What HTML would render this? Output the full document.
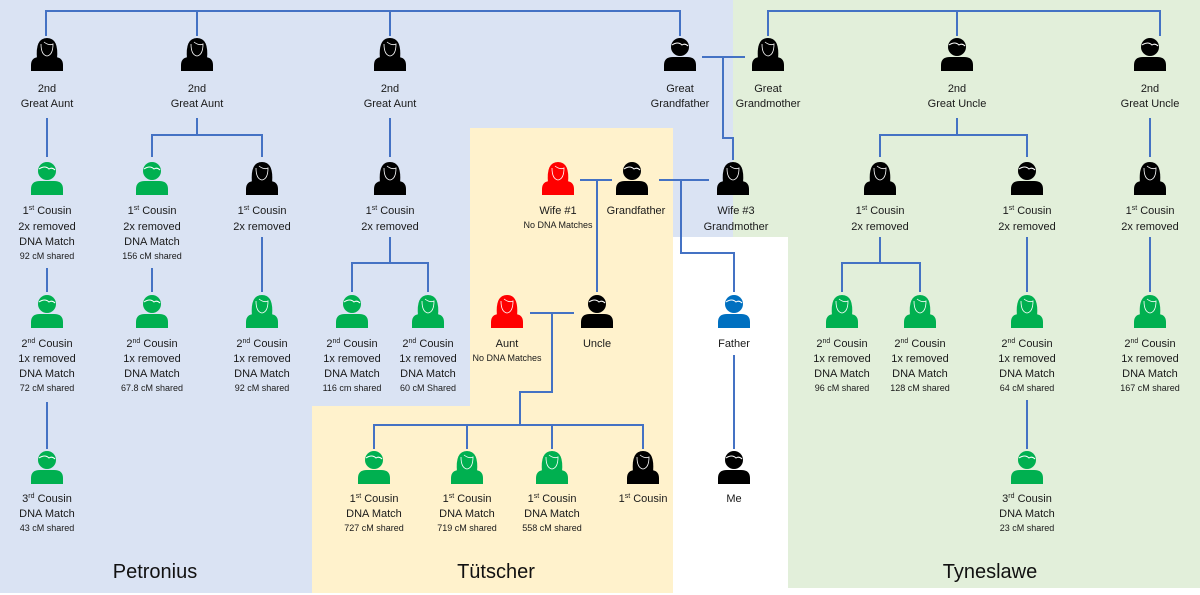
<!DOCTYPE html>
<html><head><meta charset="utf-8"><style>
html,body{margin:0;padding:0;background:#fff}
svg{display:block}
text{font-family:"Liberation Sans",sans-serif;font-size:11px;fill:#1a1a1a;text-anchor:middle}
.s{font-size:9px}
.t{font-size:20px;fill:#111}
</style></head><body>
<svg width="1200" height="595" viewBox="0 0 1200 595" xmlns="http://www.w3.org/2000/svg">
<defs>
<symbol id="m" viewBox="0 0 32 34"><circle cx="16" cy="10" r="9"/><path d="M0 34V28Q0 20 9 20H23Q32 20 32 28V34Z"/><path d="M8 8Q14 4 18 8Q21 6 24 9" fill="none" stroke="#fff" stroke-width="1"/></symbol>
<symbol id="f" viewBox="0 0 32 34"><path d="M6 22Q4 1 16 1Q28 1 26 22Z"/><path d="M0 34V28Q0 20 9 20H23Q32 20 32 28V34Z"/><path d="M10 7Q10 18 16 19Q22 18 22 7Q18 9 13 5" fill="none" stroke="#fff" stroke-width="0.8"/></symbol>
</defs>
<rect x="0" y="0" width="733" height="237" fill="#dae3f3"/>
<rect x="0" y="237" width="470" height="170" fill="#dae3f3"/>
<rect x="0" y="406" width="312" height="187" fill="#dae3f3"/>
<rect x="733" y="0" width="467" height="237" fill="#e2efda"/>
<rect x="788" y="237" width="412" height="351" fill="#e2efda"/>
<rect x="470" y="128" width="203" height="465" fill="#fff2cc"/>
<rect x="312" y="406" width="361" height="187" fill="#fff2cc"/>
<g fill="none" stroke="#4472c4" stroke-width="2">
<path d="M46 36V11H680V36M197 11V36M390 11V36"/>
<path d="M768 36V11H1160V36M957 11V36"/>
<path d="M702 57H745M723 57V138H733V160"/>
<path d="M47 118V157M197 118V135M152 157V135H262V157M390 118V157M957 118V135M880 157V135H1027V157M1150 118V157"/>
<path d="M47 268V292M152 268V292M262 237V292M390 237V263M352 292V263H428V292M880 237V263M842 292V263H920V292M1027 237V292M1150 237V292"/>
<path d="M580 180H612M597 180V292M659 180H709M681 180V253H734V292"/>
<path d="M530 313H574M552 313V392H520V425M374 449V425H643V449M467 425V449M552 425V449"/>
<path d="M47 402V449M734 355V449M1027 400V449"/>
</g>
<g fill="#000">
<use href="#f" x="31" y="37" width="32" height="34"/>
<use href="#f" x="181" y="37" width="32" height="34"/>
<use href="#f" x="374" y="37" width="32" height="34"/>
<use href="#m" x="664" y="37" width="32" height="34"/>
<use href="#f" x="752" y="37" width="32" height="34"/>
<use href="#m" x="941" y="37" width="32" height="34"/>
<use href="#m" x="1134" y="37" width="32" height="34"/>
<use href="#f" x="246" y="161" width="32" height="34"/>
<use href="#f" x="374" y="161" width="32" height="34"/>
<use href="#m" x="616" y="161" width="32" height="34"/>
<use href="#f" x="717" y="161" width="32" height="34"/>
<use href="#f" x="864" y="161" width="32" height="34"/>
<use href="#m" x="1011" y="161" width="32" height="34"/>
<use href="#f" x="1134" y="161" width="32" height="34"/>
<use href="#m" x="581" y="294" width="32" height="34"/>
<use href="#f" x="627" y="450" width="32" height="34"/>
<use href="#m" x="718" y="450" width="32" height="34"/>
</g>
<g fill="#00b050">
<use href="#m" x="31" y="161" width="32" height="34"/>
<use href="#m" x="136" y="161" width="32" height="34"/>
<use href="#m" x="31" y="294" width="32" height="34"/>
<use href="#m" x="136" y="294" width="32" height="34"/>
<use href="#f" x="246" y="294" width="32" height="34"/>
<use href="#m" x="336" y="294" width="32" height="34"/>
<use href="#f" x="412" y="294" width="32" height="34"/>
<use href="#f" x="826" y="294" width="32" height="34"/>
<use href="#f" x="904" y="294" width="32" height="34"/>
<use href="#f" x="1011" y="294" width="32" height="34"/>
<use href="#f" x="1134" y="294" width="32" height="34"/>
<use href="#m" x="31" y="450" width="32" height="34"/>
<use href="#m" x="358" y="450" width="32" height="34"/>
<use href="#f" x="451" y="450" width="32" height="34"/>
<use href="#f" x="536" y="450" width="32" height="34"/>
<use href="#m" x="1011" y="450" width="32" height="34"/>
</g>
<g fill="#ff0000">
<use href="#f" x="542" y="161" width="32" height="34"/>
<use href="#f" x="491" y="294" width="32" height="34"/>
</g>
<use href="#m" x="718" y="294" width="32" height="34" fill="#0070c0"/>
<text x="47" y="92">2nd</text><text x="47" y="107">Great Aunt</text>
<text x="197" y="92">2nd</text><text x="197" y="107">Great Aunt</text>
<text x="390" y="92">2nd</text><text x="390" y="107">Great Aunt</text>
<text x="680" y="92">Great</text><text x="680" y="107">Grandfather</text>
<text x="768" y="92">Great</text><text x="768" y="107">Grandmother</text>
<text x="957" y="92">2nd</text><text x="957" y="107">Great Uncle</text>
<text x="1150" y="92">2nd</text><text x="1150" y="107">Great Uncle</text>
<text x="47" y="214">1<tspan font-size="7" dy="-4">st</tspan><tspan dy="4"> Cousin</tspan></text><text x="47" y="230">2x removed</text><text x="47" y="245">DNA Match</text><text class="s" x="47" y="259">92 cM shared</text>
<text x="152" y="214">1<tspan font-size="7" dy="-4">st</tspan><tspan dy="4"> Cousin</tspan></text><text x="152" y="230">2x removed</text><text x="152" y="245">DNA Match</text><text class="s" x="152" y="259">156 cM shared</text>
<text x="262" y="214">1<tspan font-size="7" dy="-4">st</tspan><tspan dy="4"> Cousin</tspan></text><text x="262" y="230">2x removed</text>
<text x="390" y="214">1<tspan font-size="7" dy="-4">st</tspan><tspan dy="4"> Cousin</tspan></text><text x="390" y="230">2x removed</text>
<text x="558" y="214">Wife #1</text><text class="s" x="558" y="228">No DNA Matches</text>
<text x="636" y="214">Grandfather</text>
<text x="736" y="214">Wife #3</text><text x="736" y="230">Grandmother</text>
<text x="880" y="214">1<tspan font-size="7" dy="-4">st</tspan><tspan dy="4"> Cousin</tspan></text><text x="880" y="230">2x removed</text>
<text x="1027" y="214">1<tspan font-size="7" dy="-4">st</tspan><tspan dy="4"> Cousin</tspan></text><text x="1027" y="230">2x removed</text>
<text x="1150" y="214">1<tspan font-size="7" dy="-4">st</tspan><tspan dy="4"> Cousin</tspan></text><text x="1150" y="230">2x removed</text>
<text x="47" y="347">2<tspan font-size="7" dy="-4">nd</tspan><tspan dy="4"> Cousin</tspan></text><text x="47" y="362">1x removed</text><text x="47" y="377">DNA Match</text><text class="s" x="47" y="391">72 cM shared</text>
<text x="152" y="347">2<tspan font-size="7" dy="-4">nd</tspan><tspan dy="4"> Cousin</tspan></text><text x="152" y="362">1x removed</text><text x="152" y="377">DNA Match</text><text class="s" x="152" y="391">67.8 cM shared</text>
<text x="262" y="347">2<tspan font-size="7" dy="-4">nd</tspan><tspan dy="4"> Cousin</tspan></text><text x="262" y="362">1x removed</text><text x="262" y="377">DNA Match</text><text class="s" x="262" y="391">92 cM shared</text>
<text x="352" y="347">2<tspan font-size="7" dy="-4">nd</tspan><tspan dy="4"> Cousin</tspan></text><text x="352" y="362">1x removed</text><text x="352" y="377">DNA Match</text><text class="s" x="352" y="391">116 cm shared</text>
<text x="428" y="347">2<tspan font-size="7" dy="-4">nd</tspan><tspan dy="4"> Cousin</tspan></text><text x="428" y="362">1x removed</text><text x="428" y="377">DNA Match</text><text class="s" x="428" y="391">60 cM Shared</text>
<text x="507" y="347">Aunt</text><text class="s" x="507" y="361">No DNA Matches</text>
<text x="597" y="347">Uncle</text>
<text x="734" y="347">Father</text>
<text x="842" y="347">2<tspan font-size="7" dy="-4">nd</tspan><tspan dy="4"> Cousin</tspan></text><text x="842" y="362">1x removed</text><text x="842" y="377">DNA Match</text><text class="s" x="842" y="391">96 cM shared</text>
<text x="920" y="347">2<tspan font-size="7" dy="-4">nd</tspan><tspan dy="4"> Cousin</tspan></text><text x="920" y="362">1x removed</text><text x="920" y="377">DNA Match</text><text class="s" x="920" y="391">128 cM shared</text>
<text x="1027" y="347">2<tspan font-size="7" dy="-4">nd</tspan><tspan dy="4"> Cousin</tspan></text><text x="1027" y="362">1x removed</text><text x="1027" y="377">DNA Match</text><text class="s" x="1027" y="391">64 cM shared</text>
<text x="1150" y="347">2<tspan font-size="7" dy="-4">nd</tspan><tspan dy="4"> Cousin</tspan></text><text x="1150" y="362">1x removed</text><text x="1150" y="377">DNA Match</text><text class="s" x="1150" y="391">167 cM shared</text>
<text x="47" y="502">3<tspan font-size="7" dy="-4">rd</tspan><tspan dy="4"> Cousin</tspan></text><text x="47" y="517">DNA Match</text><text class="s" x="47" y="531">43 cM shared</text>
<text x="374" y="502">1<tspan font-size="7" dy="-4">st</tspan><tspan dy="4">  Cousin</tspan></text><text x="374" y="517">DNA Match</text><text class="s" x="374" y="531">727 cM shared</text>
<text x="467" y="502">1<tspan font-size="7" dy="-4">st</tspan><tspan dy="4"> Cousin</tspan></text><text x="467" y="517">DNA Match</text><text class="s" x="467" y="531">719 cM shared</text>
<text x="552" y="502">1<tspan font-size="7" dy="-4">st</tspan><tspan dy="4"> Cousin</tspan></text><text x="552" y="517">DNA Match</text><text class="s" x="552" y="531">558 cM shared</text>
<text x="643" y="502">1<tspan font-size="7" dy="-4">st</tspan><tspan dy="4"> Cousin</tspan></text>
<text x="734" y="502">Me</text>
<text x="1027" y="502">3<tspan font-size="7" dy="-4">rd</tspan><tspan dy="4"> Cousin</tspan></text><text x="1027" y="517">DNA Match</text><text class="s" x="1027" y="531">23 cM shared</text>
<text class="t" x="155" y="578">Petronius</text>
<text class="t" x="496" y="578">Tütscher</text>
<text class="t" x="990" y="578">Tyneslawe</text>
</svg>
</body></html>
